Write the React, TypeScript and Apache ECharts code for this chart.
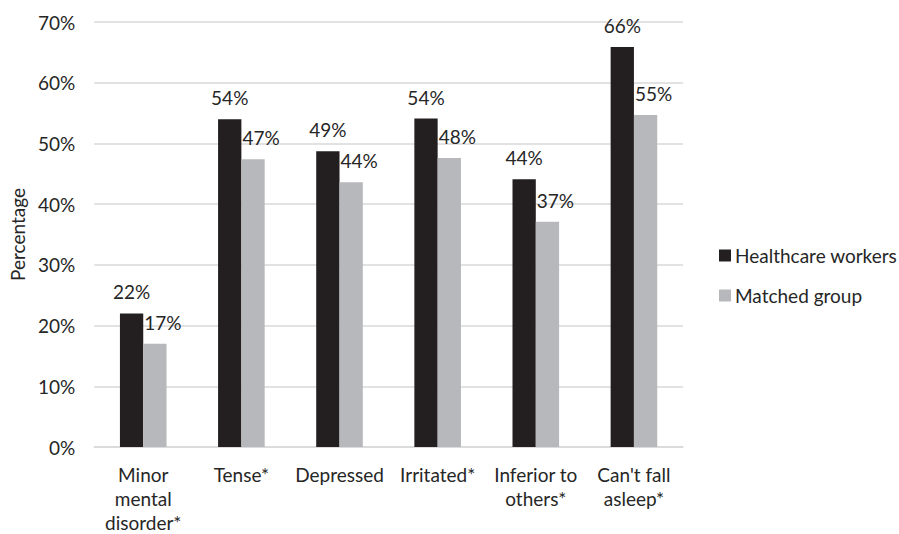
import React, { useEffect, useRef } from "react";
import * as echarts from "echarts";

const categories = [
  "Minor\nmental\ndisorder*",
  "Tense*",
  "Depressed",
  "Irritated*",
  "Inferior to\nothers*",
  "Can't fall\nasleep*",
];
const healthcareWorkers = [22.0, 54.0, 48.7, 54.1, 44.1, 65.9];
const matchedGroup = [17.0, 47.4, 43.6, 47.6, 37.1, 54.7];
const seriesNames = ["Healthcare workers", "Matched group"];
const yTicks = [0, 10, 20, 30, 40, 50, 60, 70];

const FONT = "Lato, 'Noto Sans', sans-serif";
const TEXT = "#262626";
const FS = 19;

export default function App() {
  const ref = useRef<HTMLDivElement>(null);
  useEffect(() => {
    if (!ref.current) return;
    const chart = echarts.init(ref.current, undefined, { renderer: "svg" });
    chart.setOption({
      animation: false,
      backgroundColor: "#ffffff",
      textStyle: { fontFamily: FONT },
      grid: { left: 93, right: 216, top: 22, bottom: 86, containLabel: false },
      legend: {
        orient: "vertical",
        left: 719,
        top: 246,
        padding: 0,
        itemWidth: 12,
        itemHeight: 12,
        itemGap: 21,
        icon: "rect",
        data: seriesNames,
        textStyle: { fontFamily: FONT, fontSize: FS, color: TEXT, lineHeight: 19, padding: [0, 0, 0, -1] },
      },
      xAxis: {
        type: "category",
        data: categories,
        axisLine: { show: true, lineStyle: { color: "#d9d9d9", width: 1.5 } },
        axisTick: { show: false },
        axisLabel: {
          fontFamily: FONT,
          fontSize: FS,
          color: TEXT,
          lineHeight: 24,
          margin: 15,
          interval: 0,
        },
      },
      yAxis: {
        type: "value",
        min: yTicks[0],
        max: yTicks[yTicks.length - 1],
        interval: 10,
        name: "Percentage",
        nameLocation: "middle",
        nameGap: 66,
        nameTextStyle: { fontFamily: FONT, fontSize: FS, color: TEXT },
        axisLine: { show: false },
        axisTick: { show: false },
        splitLine: { lineStyle: { color: "#d9d9d9", width: 1.5 } },
        axisLabel: {
          fontFamily: FONT,
          fontSize: FS,
          color: TEXT,
          margin: 19,
          formatter: (v: number) => `${v}%`,
        },
      },
      series: [
        {
          name: seriesNames[0],
          type: "bar",
          data: healthcareWorkers,
          barWidth: 23.3,
          barGap: "0%",
          itemStyle: { color: "#231f20" },
          label: {
            show: true,
            position: "top",
            distance: 12,
            fontFamily: FONT,
            fontSize: FS,
            color: TEXT,
            formatter: (p: any) => `${Math.round(p.value)}%`,
          },
        },
        {
          name: seriesNames[1],
          type: "bar",
          data: matchedGroup,
          barWidth: 23.3,
          barGap: "0%",
          itemStyle: { color: "#b7b8bb" },
          label: {
            show: true,
            position: "top",
            distance: 12,
            offset: [8, 0],
            fontFamily: FONT,
            fontSize: FS,
            color: TEXT,
            formatter: (p: any) => `${Math.round(p.value)}%`,
          },
        },
      ],
    });
    return () => chart.dispose();
  }, []);
  return <div ref={ref} style={{ width: 899, height: 534, position: "absolute", left: 0, top: 0 }} />;
}
